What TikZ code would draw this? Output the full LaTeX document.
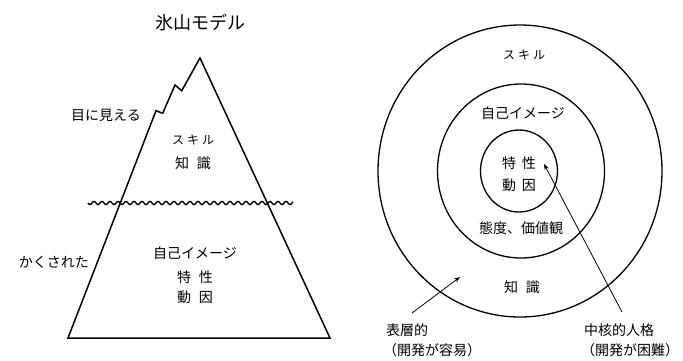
\documentclass[tikz,border=0pt]{standalone}
\usepackage{fontspec}
\newfontfamily\jp{Noto Sans CJK JP}
\usetikzlibrary{arrows.meta}
\begin{document}
\begin{tikzpicture}[x=1pt,y=-1pt,
  lbl/.style={inner sep=0pt, font=\jp\fontsize{14}{16}\selectfont},
  small/.style={inner sep=0pt, font=\jp\fontsize{12}{14}\selectfont},
  ttl/.style={inner sep=0pt, font=\jp\fontsize{18}{20}\selectfont},
  outline/.style={line width=1.5pt, line join=miter},
  ring/.style={line width=1.3pt},
  pointer/.style={line width=0.8pt, -{Stealth[length=6pt,width=4.5pt]}}]
\useasboundingbox (0,0) rectangle (683,360);
% title
\node[ttl] (title) at (200,23) {氷山モデル};
% iceberg
\coordinate (peak) at (200,58);
\coordinate (bl) at (68,338);
\coordinate (br) at (330,338);
\draw[outline] (peak) -- (181.7,90.7) -- (175,85) -- (162.7,113.3) -- (156,110.7) -- (bl) -- (br) -- cycle;
% water line
\draw[line width=1.4pt] plot[domain=88:293, samples=500] (\x, {203+1.5*sin(\x*45)});
% iceberg labels
\node[lbl, anchor=east] (visible) at (141,115) {目に見える};
\node[lbl, anchor=east] (hidden) at (89,262) {かくされた};
\node[small] (skillA) at (193,140) {ス\hspace{3pt}キ\hspace{3pt}ル};
\node[lbl] (knowA) at (193,163) {知\hspace{8pt}識};
\node[lbl] (selfA) at (195,253) {自己イメージ};
\node[lbl] (traitA) at (195,277) {特\hspace{8pt}性};
\node[lbl] (motiveA) at (195,297) {動\hspace{8pt}因};
% concentric model
\draw[ring] (520,171) ellipse [x radius=142, y radius=146];
\draw[ring] (521,171) ellipse [x radius=83.5, y radius=87];
\draw[ring] (519,171) ellipse [x radius=38.5, y radius=41];
\node[small] (skillB) at (524,55) {ス\hspace{3pt}キ\hspace{3pt}ル};
\node[lbl] (selfB) at (523,113) {自己イメージ};
\node[lbl] (traitB) at (519,163) {特\hspace{6pt}性};
\node[lbl] (motiveB) at (519,185) {動\hspace{6pt}因};
\node[lbl] (attitude) at (521,228) {態度、価値観};
\node[lbl] (knowB) at (522,287) {知\hspace{8pt}識};
\node[lbl, anchor=west] (surface) at (386,330) {表層的};
\node[lbl, anchor=west] (surface2) at (383,350) {（開発が容易）};
\node[lbl, anchor=west] (core) at (584,330) {中核的人格};
\node[lbl, anchor=west] (core2) at (581,350) {（開発が困難）};
\coordinate (a1s) at (412,313);
\coordinate (a1e) at (460,277);
\coordinate (a2s) at (622,312);
\coordinate (a2e) at (544,164);
\draw[pointer] (a1s) -- (a1e);
\draw[pointer] (a2s) -- (a2e);
\end{tikzpicture}
\end{document}
